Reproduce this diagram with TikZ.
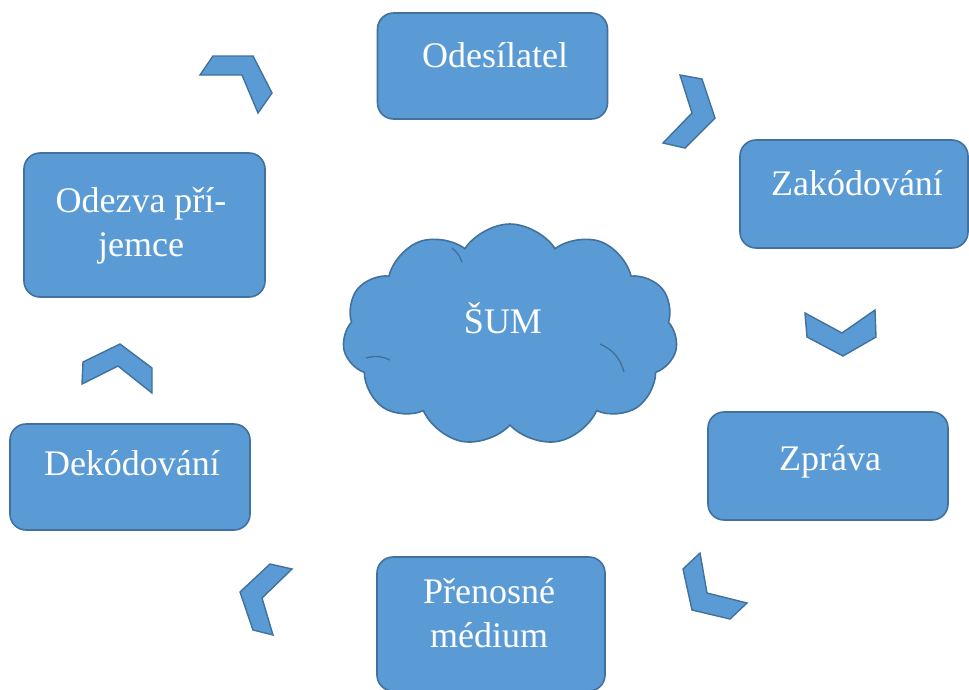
\documentclass[tikz,border=0pt]{standalone}
\usepackage{fontspec}
\setmainfont{LiberationSerif}[Extension=.ttf, UprightFont=*-Regular, BoldFont=*-Bold]
\usetikzlibrary{shapes.symbols}
\definecolor{boxfill}{HTML}{5B9BD5}
\definecolor{boxline}{HTML}{41719C}
\tikzset{
  stepbox/.style={draw=boxline, line width=1.6pt, fill=boxfill, rounded corners=16pt, inner sep=0pt},
  boxtxt/.style={text=white, font=\fontsize{36}{44}\selectfont, anchor=base, inner sep=0pt},
  chev/.style={draw=boxline, line width=1.4pt, fill=boxfill, line join=miter},
  cloudshape/.style={cloud, cloud puffs=11, cloud puff arc=115, aspect=1.55, draw=boxline, line width=1.6pt, fill=boxfill, minimum width=335pt, minimum height=222pt, inner sep=0pt},
  innerarc/.style={draw=boxline, line width=1.4pt}
}
\begin{document}
\begin{tikzpicture}[x=1pt,y=-1pt]
\useasboundingbox (0,0) rectangle (969,689);
\fill[white] (0,0) rectangle (969,689);
% boxes
\node[stepbox, minimum width=230pt, minimum height=106pt] (ode) at (492.5,66) {};
\node[stepbox, minimum width=228pt, minimum height=108pt] (zak) at (854,194) {};
\node[stepbox, minimum width=240pt, minimum height=108pt] (zpr) at (828,466) {};
\node[stepbox, minimum width=228pt, minimum height=134pt] (pre) at (491,624) {};
\node[stepbox, minimum width=240pt, minimum height=106pt] (dek) at (130,477) {};
\node[stepbox, minimum width=241pt, minimum height=144pt] (odz) at (144.5,225) {};
% texts
\node[boxtxt] (tode) at (495,67) {Odesílatel};
\node[boxtxt] (tzak) at (857,195) {Zakódování};
\node[boxtxt] (tzpr) at (830,470) {Zpráva};
\node[boxtxt] (tpre1) at (489,603) {Přenosné};
\node[boxtxt] (tpre2) at (489,647) {médium};
\node[boxtxt] (tdek) at (132,475) {Dekódování};
\node[boxtxt] (todz1) at (141,212) {Odezva pří-};
\node[boxtxt] (todz2) at (141,256) {jemce};
% cloud
\node[cloudshape] (sum) at (510,335) {};
\coordinate (ia1) at (366,358);
\coordinate (ib1) at (390,360);
\coordinate (ia2) at (600,344);
\coordinate (ib2) at (624,372);
\coordinate (ia3) at (452,248);
\coordinate (ib3) at (462,262);
\draw[innerarc] (ia1) to[bend left=20] (ib1);
\draw[innerarc] (ia2) to[bend left=25] (ib2);
\draw[innerarc] (ia3) to[bend left=15] (ib3);
\node[boxtxt] (tsum) at (503,333) {ŠUM};
% chevrons
\draw[chev] (200,75) -- (213,56) -- (253,56) -- (272,93) -- (258,113) -- (242,75) -- cycle;
\draw[chev] (680,75) -- (702,79) -- (715,118) -- (685,148) -- (663,143) -- (692,113) -- cycle;
\draw[chev] (805,313) -- (842,333) -- (875,310) -- (876,337) -- (843,356) -- (807,337) -- cycle;
\draw[chev] (700,553) -- (683,569) -- (692,610) -- (730,619) -- (747,603) -- (707,593) -- cycle;
\draw[chev] (270,564) -- (292,569) -- (262,598) -- (273,635) -- (253,630) -- (240,592) -- cycle;
\draw[chev] (83,362) -- (120,344) -- (152,368) -- (152,393) -- (118,366) -- (82,384) -- cycle;
\end{tikzpicture}
\end{document}
